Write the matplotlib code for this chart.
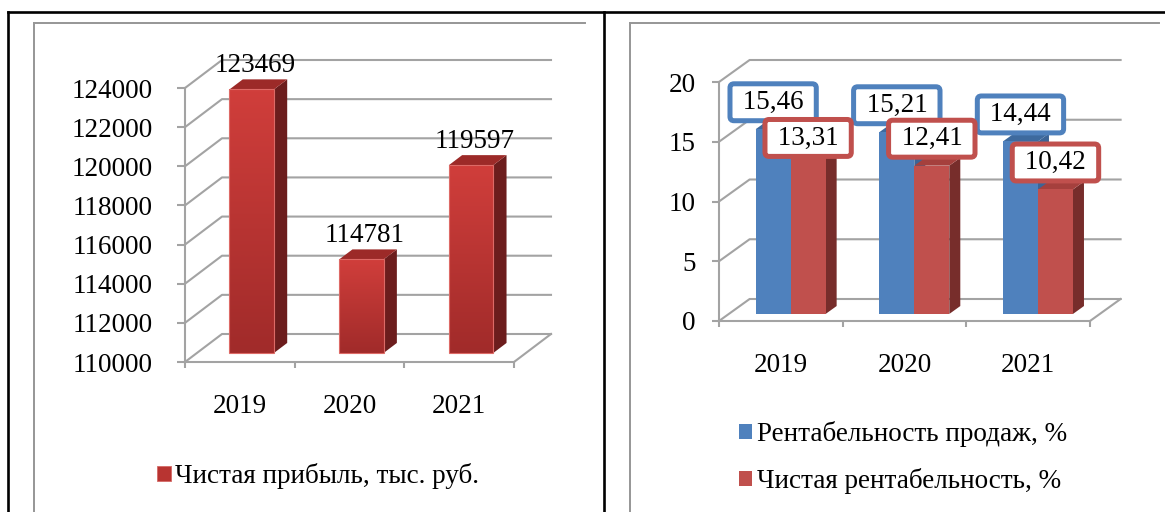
import numpy as np
import matplotlib
matplotlib.use('Agg')
import matplotlib.pyplot as plt
from matplotlib.patches import Polygon, Patch
from matplotlib.lines import Line2D
from matplotlib.transforms import IdentityTransform
from matplotlib.colors import LinearSegmentedColormap

years = ['2019', '2020', '2021']
profit = [123469, 114781, 119597]
profit_name = 'Чистая прибыль, тыс. руб.'
profit_ticks = [110000, 112000, 114000, 116000, 118000, 120000, 122000, 124000]

sales_margin = [15.46, 15.21, 14.44]
net_margin = [13.31, 12.41, 10.42]
margin_names = ['Рентабельность продаж, %', 'Чистая рентабельность, %']
margin_ticks = [0, 5, 10, 15, 20]

W, H = 1165, 512
plt.rcParams['font.family'] = ['Liberation Serif', 'DejaVu Serif']
plt.rcParams['font.size'] = 19.5

fig = plt.figure(figsize=(W / 100, H / 100), dpi=100)
ident = IdentityTransform()
GRID = '#a3a3a3'
PX = 0.72  # points per pixel at 100 dpi


def fig_line(xs, ys, color, lw):
    fig.add_artist(Line2D(xs, [H - y for y in ys], transform=ident, color=color, lw=lw))


# table borders and chart-area frames
fig_line([7.5, W], [12, 12], 'black', 1.9)
fig_line([7.5, 7.5], [12, H], 'black', 1.9)
fig_line([604, 604], [12, H], 'black', 1.9)
fig_line([34, 585], [23, 23], '#969696', 1.4)
fig_line([34, 34], [23, H], '#969696', 1.4)
fig_line([630, 1159], [23, 23], '#969696', 1.4)
fig_line([630, 630], [23, H], '#969696', 1.4)


def make_axes(rect, ticks, depth, ylab_pad, tick_len):
    ax = fig.add_axes(rect)
    ax.set_xlim(0, 3)
    ax.set_ylim(ticks[0], ticks[-1])
    ax.patch.set_visible(False)
    for s in ['top', 'right']:
        ax.spines[s].set_visible(False)
    for s in ['left', 'bottom']:
        ax.spines[s].set_color(GRID)
        ax.spines[s].set_linewidth(1.5)
    ax.set_yticks(ticks)
    ax.tick_params(axis='y', length=tick_len * PX, width=1.5, color=GRID, pad=ylab_pad * PX)
    ax.set_xticks([0, 1, 2, 3], [''] * 4)
    ax.tick_params(axis='x', which='major', length=6 * PX, width=1.5, color=GRID)
    ax.set_xticks([0.5, 1.5, 2.5], years, minor=True)
    ax.tick_params(axis='x', which='minor', length=0, pad=23)

    def P(x, y, f):
        p = ax.transData.transform((x, y))
        return p[0] + f * depth[0], p[1] + f * depth[1]

    # side wall, back wall and floor lines
    for t in ticks:
        a, b, c = P(0, t, 0), P(0, t, 1), P(3, t, 1)
        ax.add_line(Line2D([a[0], b[0], c[0]], [a[1], b[1], c[1]], transform=ident,
                           color=GRID, lw=1.5, clip_on=False, zorder=1))
    a, b = P(3, ticks[0], 0), P(3, ticks[0], 1)
    ax.add_line(Line2D([a[0], b[0]], [a[1], b[1]], transform=ident,
                       color=GRID, lw=1.5, clip_on=False, zorder=1))
    return ax, P


def bar3d(ax, P, xl, xr, v, base, f1, f2, front, side, top, z, cmap=None):
    side_pts = [P(xr, base, f1), P(xr, base, f2), P(xr, v, f2), P(xr, v, f1)]
    top_pts = [P(xl, v, f1), P(xr, v, f1), P(xr, v, f2), P(xl, v, f2)]
    front_pts = [P(xl, base, f1), P(xr, base, f1), P(xr, v, f1), P(xl, v, f1)]
    ax.add_patch(Polygon(side_pts, closed=True, transform=ident, fc=side, ec='none',
                         clip_on=False, zorder=z))
    ax.add_patch(Polygon(top_pts, closed=True, transform=ident, fc=top, ec='none',
                         clip_on=False, zorder=z))
    if cmap is not None:
        (x0, y0), (x1, y1) = front_pts[0], front_pts[2]
        ax.imshow(np.linspace(0, 1, 64).reshape(-1, 1), cmap=cmap, extent=[x0, x1, y0, y1],
                  transform=ident, aspect='auto', clip_on=False, zorder=z + 0.1,
                  interpolation='bilinear')
        ax.add_patch(Polygon(front_pts, closed=True, transform=ident, fc='none',
                             ec='#dd6a66', lw=0.8, clip_on=False, zorder=z + 0.2))
    else:
        ax.add_patch(Polygon(front_pts, closed=True, transform=ident, fc=front, ec='none',
                             clip_on=False, zorder=z))


# ---------- left chart: net profit ----------
axl, Pl = make_axes([185 / W, (H - 362) / H, 329 / W, 274 / H], profit_ticks,
                    (37, 28), 24, 8)
red_grad = LinearSegmentedColormap.from_list('rg', ['#d03e3b', '#a12b2a'])
bw = 0.405
for i, v in enumerate(profit):
    c = i + 0.5
    bar3d(axl, Pl, c - bw / 2, c + bw / 2, v, profit_ticks[0], 0.32, 0.68,
          '#b83431', '#6c1d1d', '#9c2a28', 3, cmap=red_grad)
    axl.annotate(str(v), xy=(c, v), xytext=(15 * PX, 33 * PX), textcoords='offset points',
                 ha='center', va='center', zorder=6, annotation_clip=False)

fig.legend([Patch(fc='#b83431', ec='#d46a66', lw=0.6)], [profit_name], loc='center left',
           bbox_to_anchor=(157 / W, 1 - 476 / H), frameon=False, handlelength=0.5,
           handleheight=0.5, handletextpad=0.15, borderpad=0, borderaxespad=0)

# ---------- right chart: profitability ----------
axr, Pr = make_axes([719 / W, (H - 321) / H, 371 / W, 239 / H], margin_ticks,
                    (30.6, 22), 16.5, 7)
BLUE, RED = '#4f81bd', '#c0504d'
bw = 0.283
for i in range(3):
    c = i + 0.5
    bar3d(axr, Pr, c - bw, c, sales_margin[i], 0, 0.32, 0.68,
          BLUE, '#3c6496', '#3e6a9e', 3)
    bar3d(axr, Pr, c, c + bw, net_margin[i], 0, 0.32, 0.68,
          RED, '#772d2b', '#a5403d', 3.5)

for i in range(3):
    c = i + 0.5
    for j, (vals, col, xc) in enumerate([(sales_margin, BLUE, c - bw / 2),
                                        (net_margin, RED, c + bw / 2)]):
        v = vals[i]
        dy = 24 if (i == 0 and j == 1) else 34
        axr.annotate(' ' + f'{v:.2f}'.replace('.', ',') + ' ', xy=(xc, v),
                     xytext=(9.8 * PX, dy * PX), textcoords='offset points',
                     ha='center', va='center', zorder=6 + j, annotation_clip=False,
                     bbox=dict(boxstyle='round,pad=0.22,rounding_size=0.15', fc='white',
                               ec=col, lw=3.6))

fig.legend([Patch(fc=BLUE), Patch(fc=RED)], margin_names, loc='upper left',
           bbox_to_anchor=(739 / W, 1 - 421 / H), frameon=False, handlelength=0.47,
           handleheight=0.47, handletextpad=0.2, borderpad=0, borderaxespad=0,
           labelspacing=0.78)

fig.savefig('out.png', dpi=100)
